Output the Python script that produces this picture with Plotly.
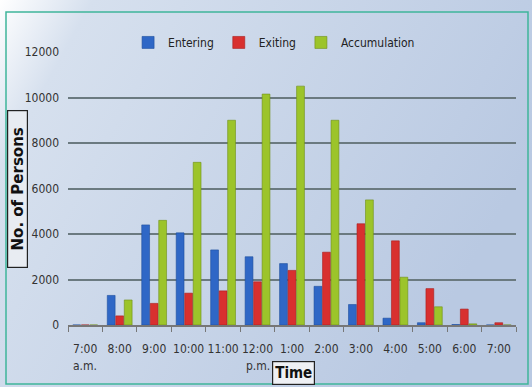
import base64
import plotly.graph_objects as go

times = ["7:00", "8:00", "9:00", "10:00", "11:00", "12:00", "1:00", "2:00",
         "3:00", "4:00", "5:00", "6:00", "7:00 "]
entering = [0, 1300, 4400, 4050, 3300, 3000, 2700, 1700, 900, 300, 100, 20, 0]
exiting = [0, 400, 950, 1400, 1500, 1900, 2400, 3200, 4450, 3700, 1600, 700, 100]
accumulation = [0, 1100, 4600, 7150, 9000, 10150, 10500, 9000, 5500, 2100, 800, 50, 0]
y_ticks = [0, 2000, 4000, 6000, 8000, 10000, 12000]

FONT = "DejaVu Sans Condensed, Liberation Sans, sans-serif"

fig = go.Figure()
fig.add_bar(name="Entering", x=times, y=entering,
            marker=dict(color="#2f67c6", line=dict(color="#1f4f9e", width=0.6)))
fig.add_bar(name="Exiting", x=times, y=exiting,
            marker=dict(color="#d8302f", line=dict(color="#a81f1f", width=0.6)))
fig.add_bar(name="Accumulation", x=times, y=accumulation,
            marker=dict(color="#9cc42a", line=dict(color="#6f8f16", width=0.6)))

W, H = 532, 387
L, R, T, B = 68, 16, 52, 62
pw, ph = W - L - R, H - T - B

svg = f'''<svg xmlns="http://www.w3.org/2000/svg" width="{W}" height="{H}">
<defs>
<linearGradient id="g" x1="0" y1="0" x2="1" y2="0.4">
<stop offset="0" stop-color="#ffffff"/>
<stop offset="0.15" stop-color="#d6e0ee"/>
<stop offset="1" stop-color="#b9c9e2"/>
</linearGradient>
</defs>
<rect width="{W}" height="{H}" fill="url(#g)"/>
</svg>'''
src = "data:image/svg+xml;base64," + base64.b64encode(svg.encode()).decode()

fig.add_layout_image(dict(source=src, xref="paper", yref="paper",
                          x=-L / pw, y=1 + T / ph, sizex=W / pw, sizey=H / ph,
                          xanchor="left", yanchor="top", sizing="stretch",
                          layer="below"))

# outer teal border
fig.add_shape(type="rect", xref="paper", yref="paper",
              x0=(6 - L) / pw, x1=(528 - L) / pw,
              y0=1 - (384 - T) / ph, y1=1 - (12 - T) / ph,
              line=dict(color="#3fb59a", width=1.5), layer="below")

fig.update_layout(
    width=W, height=H,
    margin=dict(l=L, r=R, t=T, b=B, autoexpand=False),
    paper_bgcolor="#dde5f0",
    plot_bgcolor="#b8dce9",
    barmode="group", bargap=0.26, bargroupgap=0.08,
    font=dict(family=FONT, size=12, color="#333333"),
    legend=dict(orientation="h", x=0.46, xanchor="center", y=1.035, yanchor="middle",
                font=dict(size=12, color="#222222"), bgcolor="rgba(0,0,0,0)",
                itemwidth=30, tracegroupgap=0),
    xaxis=dict(type="category", tickmode="array", tickvals=times,
               ticktext=[t.strip() for t in times], tickangle=0, automargin=False,
               ticks="outside", tickson="boundaries", ticklen=5, tickcolor="#777777",
               showline=True, linecolor="#777777", linewidth=1.5,
               ticklabelstandoff=12, tickfont=dict(size=12, color="#333333")),
    yaxis=dict(range=[0, 12000], tickmode="array", tickvals=y_ticks,
               ticktext=[str(v) for v in y_ticks], automargin=False, showgrid=True,
               gridcolor="#6b7a80", gridwidth=1.5, zeroline=False,
               ticklabelstandoff=8, tickfont=dict(size=12, color="#333333")),
    showlegend=True,
)

fig.add_annotation(x="7:00", y=0, xref="x", yref="paper", yshift=-50,
                   text="a.m.", showarrow=False, font=dict(size=12, color="#333333"))
fig.add_annotation(x="12:00", y=0, xref="x", yref="paper", yshift=-50,
                   text="p.m.", showarrow=False, font=dict(size=12, color="#333333"))
fig.add_annotation(xref="paper", yref="paper", x=(17 - L) / pw, y=1 - (189 - T) / ph,
                   xanchor="center", yanchor="middle",
                   text="<b>No. of Persons</b>", textangle=-90, showarrow=False,
                   width=154, height=17,
                   font=dict(size=15, color="#111111", family="DejaVu Sans"),
                   bordercolor="#222222", borderwidth=1.2, bgcolor="#e8ecf2",
                   borderpad=1)
fig.add_annotation(xref="paper", yref="paper", x=(293 - L) / pw, y=1 - (373 - T) / ph,
                   xanchor="center", yanchor="middle",
                   text="<b>Time</b>", showarrow=False,
                   font=dict(size=15, color="#111111", family=FONT),
                   bordercolor="#222222", borderwidth=1.2, bgcolor="#eef0f4",
                   borderpad=2)

fig.write_html("out.html", config={"displayModeBar": False},
               post_script="document.body.style.margin='0';")
